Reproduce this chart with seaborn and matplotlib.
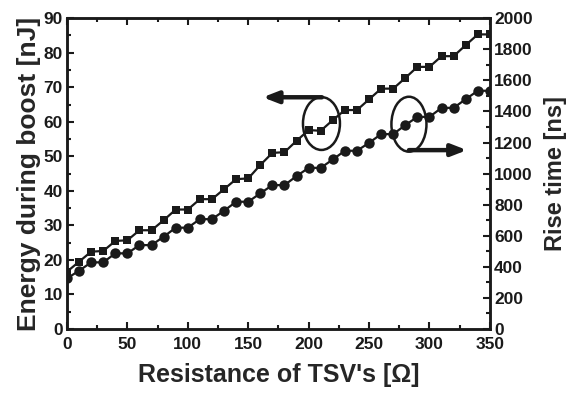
import matplotlib
matplotlib.use("Agg")
import matplotlib.pyplot as plt
import seaborn as sns
import pandas as pd
import numpy as np
from matplotlib.patches import Ellipse
from matplotlib.ticker import MultipleLocator

resistance = [0, 10, 20, 30, 40, 50, 60, 70, 80, 90, 100, 110, 120, 130, 140, 150, 160, 170,
              180, 190, 200, 210, 220, 230, 240, 250, 260, 270, 280, 290, 300, 310, 320, 330, 340, 350]
energy = [16.6, 19.5, 22.4, 22.6, 25.5, 25.7, 28.6, 28.6, 31.5, 34.6, 34.6, 37.6, 37.6, 40.5, 43.4, 43.6,
          47.5, 51.0, 51.2, 54.5, 57.6, 57.4, 60.5, 63.4, 63.4, 66.5, 69.6, 69.6, 72.7, 75.9, 75.9,
          79.0, 79.0, 82.2, 85.3, 85.3]
rise_time = [326, 375, 429, 429, 487, 487, 540, 540, 594, 652, 652, 707, 707, 761, 819, 819,
             873, 926, 926, 984, 1037, 1037, 1091, 1147, 1147, 1198, 1254, 1254, 1312, 1365, 1365,
             1423, 1423, 1479, 1533, 1533]

df = pd.DataFrame({"R": resistance, "E": energy, "T": rise_time})

sns.set_style("ticks")
plt.rcParams['font.family'] = ['Liberation Sans', 'DejaVu Sans']
plt.rcParams['font.weight'] = 'bold'

fig = plt.figure(figsize=(5.75, 3.95), dpi=100)
ax = fig.add_axes([0.1165, 0.167, 0.7355, 0.787])
ax2 = ax.twinx()

sns.lineplot(data=df, x="R", y="E", ax=ax, color="#1a1a1a", marker="s", markersize=6,
             markeredgewidth=0, linewidth=1.6)
sns.lineplot(data=df, x="R", y="T", ax=ax2, color="#1a1a1a", marker="o", markersize=7.5,
             markeredgewidth=0, linewidth=1.6)

ax.set_xlim(0, 350)
ax.set_ylim(0, 90)
ax2.set_ylim(0, 2000)
ax.xaxis.set_major_locator(MultipleLocator(50))
ax.xaxis.set_minor_locator(MultipleLocator(25))
ax.yaxis.set_major_locator(MultipleLocator(10))
ax.yaxis.set_minor_locator(MultipleLocator(5))
ax2.yaxis.set_major_locator(MultipleLocator(200))
ax2.yaxis.set_minor_locator(MultipleLocator(100))

for a in (ax, ax2):
    for s in a.spines.values():
        s.set_linewidth(1.8)
        s.set_color("#1a1a1a")
ax.tick_params(axis="both", which="both", direction="in", top=True, width=1.5, labelsize=12.5,
               colors="#1a1a1a", pad=3)
ax.tick_params(axis="x", which="both", pad=6)
ax.tick_params(axis="y", which="both", right=False)
ax.tick_params(which="major", length=5)
ax.tick_params(which="minor", length=3)
ax2.tick_params(axis="y", which="both", direction="in", width=1.5, labelsize=12.5, colors="#1a1a1a", pad=3)
ax2.tick_params(which="major", length=5)
ax2.tick_params(which="minor", length=3)
for lab in ax.get_xticklabels() + ax.get_yticklabels() + ax2.get_yticklabels():
    lab.set_fontweight("bold")

ax.set_xlabel("Resistance of TSV's [Ω]", fontsize=18, fontweight="bold", labelpad=8)
ax.set_ylabel("Energy during boost [nJ]", fontsize=19, fontweight="bold", labelpad=2)
ax2.set_ylabel("Rise time [ns]", fontsize=17, fontweight="bold", labelpad=8)

# Ellipses and arrows (annotations)
ax.add_patch(Ellipse((210.6, 59.5), 30.6, 15.3, fill=False, edgecolor="#1a1a1a", linewidth=1.8, zorder=5))
ax.add_patch(Ellipse((283, 59.3), 29, 15.9, fill=False, edgecolor="#1a1a1a", linewidth=1.8, zorder=5))
ax.annotate("", xy=(162, 67.1), xytext=(211, 67.1),
            arrowprops=dict(arrowstyle="-|>,head_length=0.9,head_width=0.35", color="#1a1a1a", lw=3.2,
                            shrinkA=0, shrinkB=0))
ax.annotate("", xy=(331, 51.8), xytext=(283, 51.8),
            arrowprops=dict(arrowstyle="-|>,head_length=0.9,head_width=0.35", color="#1a1a1a", lw=3.2,
                            shrinkA=0, shrinkB=0))

fig.savefig("out.png", dpi=100)
